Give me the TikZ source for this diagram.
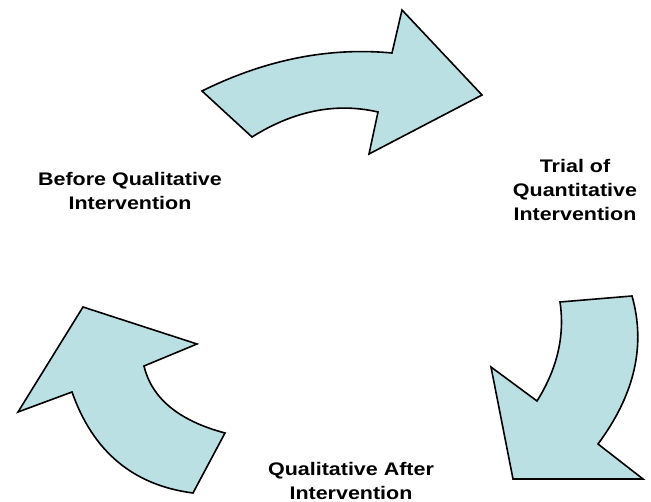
\documentclass[tikz,border=0pt]{standalone}
\usepackage{fontspec}
\setmainfont{Liberation Sans}[FakeStretch=1.18]
\definecolor{arrowfill}{HTML}{BBE0E3}
\begin{document}
\begin{tikzpicture}[x=1pt,y=-1pt,
  cyclearrow/.style={draw=black,fill=arrowfill,line width=1.6pt,line join=miter},
  lbl/.style={align=center,inner sep=0pt,font=\fontsize{18.2pt}{24pt}\selectfont\bfseries}]
\useasboundingbox (0,0) rectangle (651,502);
% top arrow
\draw[cyclearrow] (202,91) .. controls (265.3,59.7) and (328.7,47) .. (392,53) -- (402,10) -- (482,95) -- (369,154) -- (378,112)
  .. controls (336,102.3) and (294,110.7) .. (252,137) -- cycle;
% right arrow
\draw[cyclearrow] (632,296) .. controls (646,345.3) and (634.7,394.7) .. (598,444) -- (643,479) -- (513,479) -- (491,367) -- (537,401)
  .. controls (557.3,368.7) and (565,335.7) .. (560,302) -- cycle;
% left arrow
\draw[cyclearrow] (225,433) .. controls (178.7,420.7) and (151.7,398.3) .. (144,366) -- (197,344) -- (83,307) -- (18,412) -- (72,392)
  .. controls (93,451.7) and (133.3,485.3) .. (193,493) -- cycle;
\node[lbl] (before) at (130,191.3) {Before Qualitative\\Intervention};
\node[lbl] (trial) at (575,190) {Trial of\\Quantitative\\Intervention};
\node[lbl] (after) at (351,481) {Qualitative After\\Intervention};
\end{tikzpicture}
\end{document}
